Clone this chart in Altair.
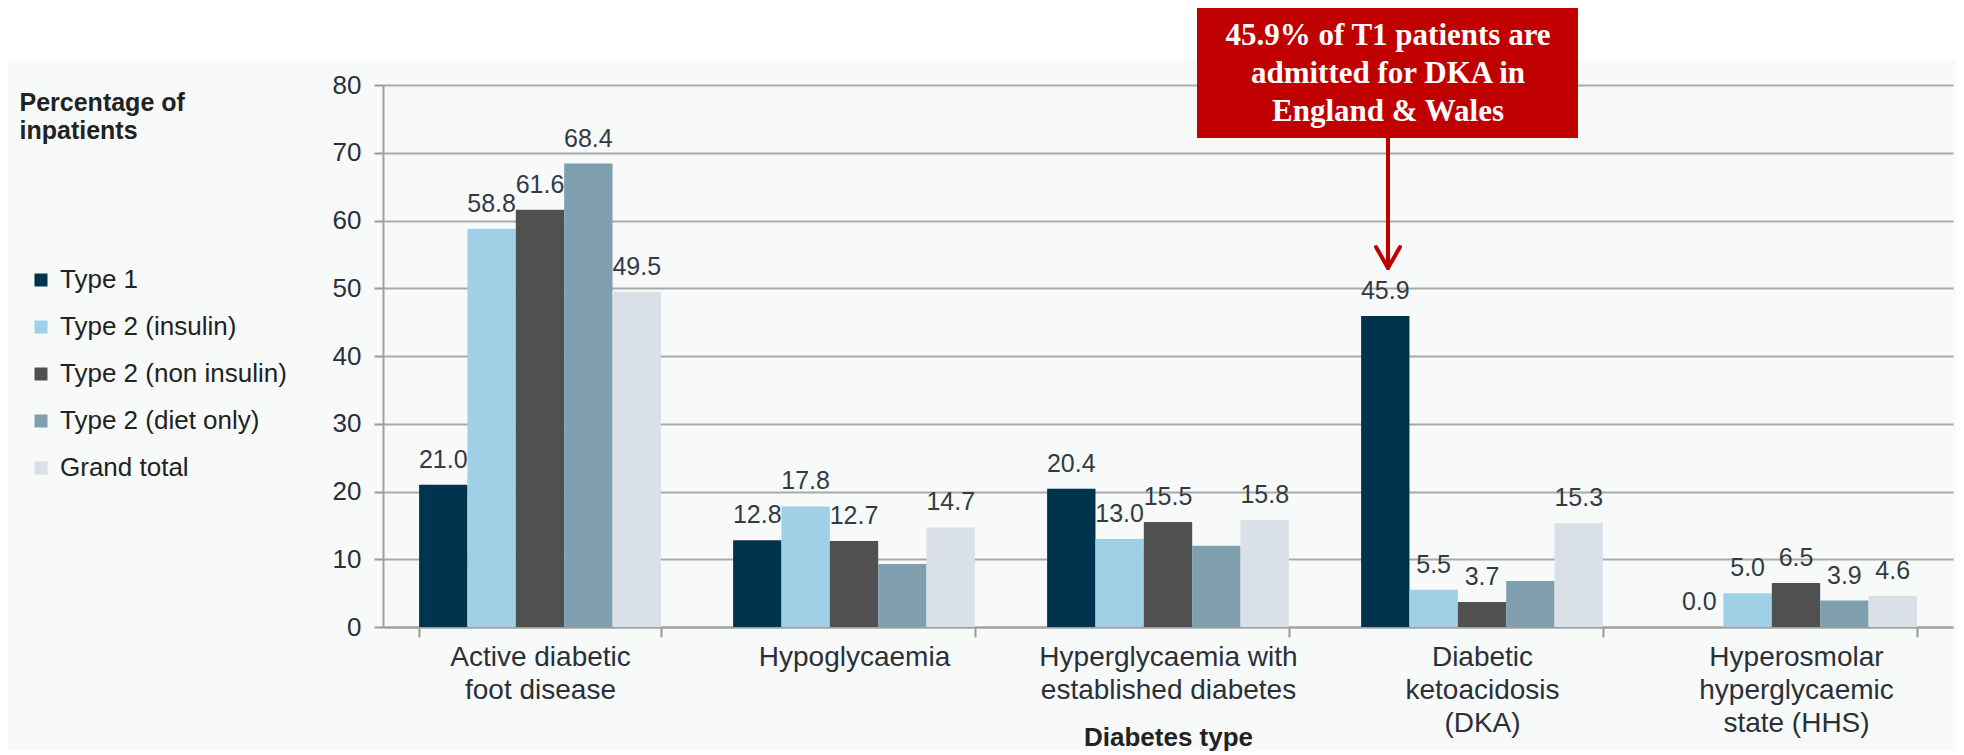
import json
import altair as alt
import pandas as pd

categories = [
    "Active diabetic foot disease",
    "Hypoglycaemia",
    "Hyperglycaemia with established diabetes",
    "Diabetic ketoacidosis (DKA)",
    "Hyperosmolar hyperglycaemic state (HHS)",
]
category_lines = [
    ["Active diabetic", "foot disease"],
    ["Hypoglycaemia"],
    ["Hyperglycaemia with", "established diabetes"],
    ["Diabetic", "ketoacidosis", "(DKA)"],
    ["Hyperosmolar", "hyperglycaemic", "state (HHS)"],
]
series = ["Type 1", "Type 2 (insulin)", "Type 2 (non insulin)", "Type 2 (diet only)", "Grand total"]
colors = ["#00334e", "#9fd0e6", "#505050", "#7f9fae", "#d9e0e8"]

type1 = [21.0, 12.8, 20.4, 45.9, 0.0]
type2_insulin = [58.8, 17.8, 13.0, 5.5, 5.0]
type2_non_insulin = [61.6, 12.7, 15.5, 3.7, 6.5]
type2_diet_only = [68.4, 9.3, 12.0, 6.8, 3.9]
grand_total = [49.5, 14.7, 15.8, 15.3, 4.6]
# which value labels are printed in the original
type1_shown = [True, True, True, True, True]
type2_insulin_shown = [True, True, True, True, True]
type2_non_insulin_shown = [True, True, True, True, True]
type2_diet_only_shown = [True, False, False, False, True]
grand_total_shown = [True, True, True, True, True]

annotation_lines = ["45.9% of T1 patients are", "admitted for DKA in", "England & Wales"]

all_values = [type1, type2_insulin, type2_non_insulin, type2_diet_only, grand_total]
all_shown = [type1_shown, type2_insulin_shown, type2_non_insulin_shown, type2_diet_only_shown, grand_total_shown]

rows = []
for s, vals, shown in zip(series, all_values, all_shown):
    for c, v, sh in zip(categories, vals, shown):
        rows.append({"category": c, "series": s, "value": v, "label": f"{v:.1f}" if sh else ""})
df = pd.DataFrame(rows)

expr = ""
for c, lines in zip(categories, category_lines):
    expr += f"datum.value === '{c}' ? {json.dumps(lines)} : "
expr += "datum.label"

FONT = "Liberation Sans"

x_enc = alt.X(
    "category:N",
    sort=categories,
    scale=alt.Scale(paddingInner=0.23, paddingOuter=0.115),
    axis=alt.Axis(
        title="Diabetes type",
        labelAngle=0,
        labelExpr=expr,
        labelFontSize=28,
        labelLineHeight=33,
        labelBaseline="top",
        labelPadding=6,
        labelLimit=0,
        labelColor="#2b2f38",
        tickBand="extent",
        tickSize=10,
        tickColor="#999999",
        tickWidth=2,
        domainColor="#a0a0a0",
        domainWidth=2,
        titleFontSize=26,
        titleFontWeight="bold",
        titleColor="#222222",
        titleX=785,
        titleY=118,
        titleAlign="center",
        titleBaseline="alphabetic",
        grid=False,
    ),
)
y_enc = alt.Y(
    "value:Q",
    scale=alt.Scale(domain=[0, 80], nice=False),
    axis=alt.Axis(
        values=list(range(0, 81, 10)),
        title=["Percentage of", "inpatients"],
        titleAngle=0,
        titleAlign="left",
        titleBaseline="alphabetic",
        titleX=-364,
        titleY=25,
        titleFontSize=25,
        titleLineHeight=28,
        titleFontWeight="bold",
        titleColor="#222222",
        titleLimit=0,
        labelFontSize=26,
        labelColor="#2b2f38",
        labelPadding=13,
        tickSize=9,
        tickColor="#999999",
        tickWidth=2,
        domainColor="#a0a0a0",
        domainWidth=2,
        grid=True,
        gridColor="#a9a9a9",
        gridWidth=2,
    ),
)

base = alt.Chart(df)

bars = base.mark_bar().encode(
    x=x_enc,
    y=y_enc,
    xOffset=alt.XOffset("series:N", sort=series, scale=alt.Scale(paddingInner=0, paddingOuter=0)),
    color=alt.Color(
        "series:N",
        sort=series,
        scale=alt.Scale(domain=series, range=colors),
        legend=alt.Legend(
            orient="none",
            legendX=-355,
            legendY=182,
            title=None,
            symbolType="square",
            symbolSize=169,
            symbolStrokeWidth=0,
            labelFontSize=26,
            labelLimit=0,
            labelColor="#222222",
            rowPadding=21,
            labelOffset=6,
        ),
    ),
)

labels = base.transform_filter("datum.label != ''").mark_text(
    fontSize=25, color="#333a45", baseline="alphabetic", dy=-17, font=FONT
).encode(
    x=alt.X("category:N", sort=categories),
    y=alt.Y("value:Q"),
    xOffset=alt.XOffset("series:N", sort=series),
    text="label:N",
)

one = pd.DataFrame({"k": [0]})
top_white = alt.Chart(one).mark_rect(color="white").encode(
    x=alt.value(-400), x2=alt.value(1600), y=alt.value(-100), y2=alt.value(-25)
)
box = alt.Chart(one).mark_rect(color="#c00000").encode(
    x=alt.value(814), x2=alt.value(1195), y=alt.value(-80), y2=alt.value(53)
)
box_text = alt.Chart(one).mark_text(
    text=annotation_lines,
    font="Liberation Serif",
    fontWeight="bold",
    fontSize=31,
    color="white",
    align="center",
    baseline="alphabetic",
    lineHeight=38,
).encode(x=alt.value(1005), y=alt.value(-40))
shaft = alt.Chart(one).mark_rule(color="#c00000", strokeWidth=4).encode(
    x=alt.value(1005), y=alt.value(53), y2=alt.value(182)
)
head_l = alt.Chart(one).mark_rule(color="#c00000", strokeWidth=4, strokeCap="round").encode(
    x=alt.value(993), y=alt.value(162), x2=alt.value(1005), y2=alt.value(183)
)
head_r = alt.Chart(one).mark_rule(color="#c00000", strokeWidth=4, strokeCap="round").encode(
    x=alt.value(1017), y=alt.value(162), x2=alt.value(1005), y2=alt.value(183)
)

chart = alt.layer(bars, labels, top_white, box, box_text, shaft, head_l, head_r).properties(
    width=1570,
    height=542,
    autosize=alt.AutoSizeParams(type="none"),
    padding={"left": 375, "top": 77, "right": 3, "bottom": 124},
    background="#f8fafa",
).configure(font=FONT).configure_view(stroke=None)

chart.save("out.html", embed_options={"renderer": "svg", "actions": False})
